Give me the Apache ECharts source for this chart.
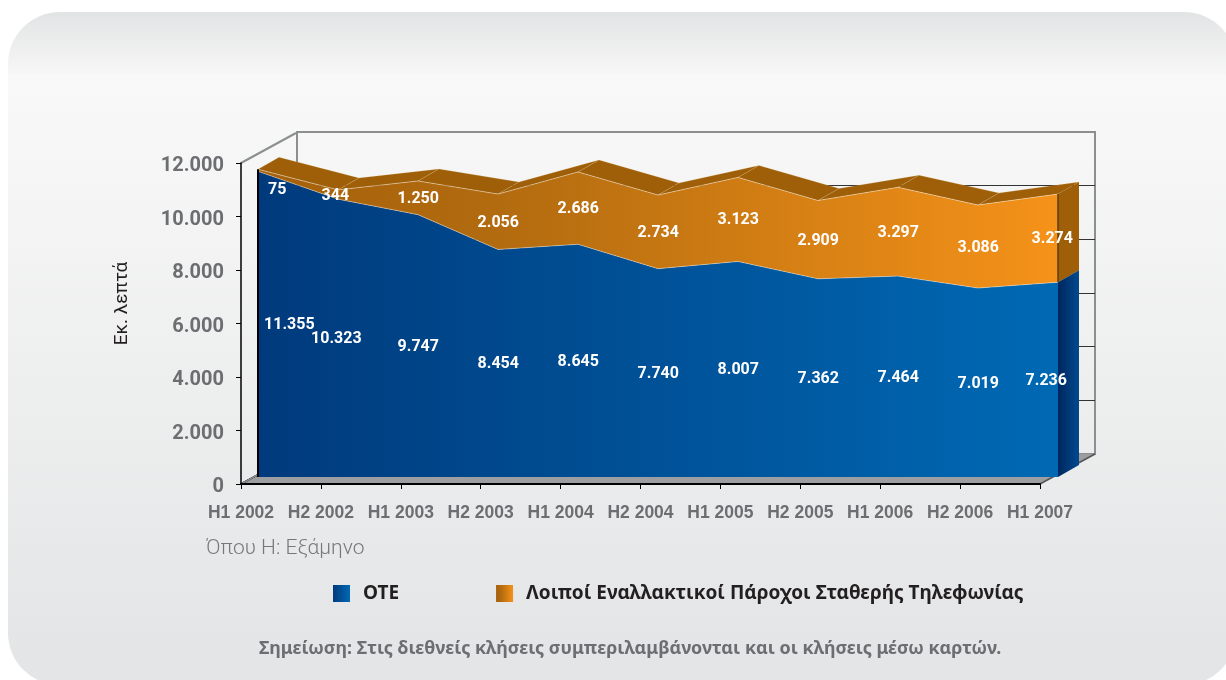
<!DOCTYPE html>
<html><head><meta charset="utf-8">
<style>html,body{margin:0;padding:0;background:#fff}#c{width:1226px;height:680px}</style>
<script src="https://cdn.jsdelivr.net/npm/echarts@6/dist/echarts.min.js"></script>
</head><body><div id="c"></div>
<script>
const categories=['H1 2002','H2 2002','H1 2003','H2 2003','H1 2004','H2 2004','H1 2005','H2 2005','H1 2006','H2 2006','H1 2007'];
const oteValues=[11355,10323,9747,8454,8645,7740,8007,7362,7464,7019,7236];
const otherValues=[75,344,1250,2056,2686,2734,3123,2909,3297,3086,3274];
const oteName='ΟΤΕ';
const otherName='Λοιποί Εναλλακτικοί Πάροχοι Σταθερής Τηλεφωνίας';
const yAxisTitle='Εκ. λεπτά';
const semesterNote='Όπου Η: Εξάμηνο';
const footNote='Σημείωση: Στις διεθνείς κλήσεις συμπεριλαμβάνονται και οι κλήσεις μέσω καρτών.';

const fmt=v=>String(v).replace(/\B(?=(\d{3})+$)/g,'.');
const G=(stops)=>new echarts.graphic.LinearGradient(0,0,1,0,stops.map(([o,c])=>({offset:o,color:c})));
const blueFill=()=>G([[0,'#003a7c'],[1,'#0069b4']]);
const orangeFill=()=>G([[0,'#a5600a'],[.3,'#b26b0f'],[1,'#f59219']]);
const totals=oteValues.map((v,i)=>v+otherValues[i]);
const D=[21,-12];        // depth of the area band, px
const W=[55,-30];        // depth of the whole box, px
const LAST=categories.length-1;
const frontAxes={xAxisIndex:2,yAxisIndex:2,coordinateSystem:'cartesian2d'};
const boxAxes={xAxisIndex:0,yAxisIndex:0,coordinateSystem:'cartesian2d'};
const add=(p,d)=>[p[0]+d[0],p[1]+d[1]];
const idx=categories.map((_,i)=>i);
const nudgeOther={0:[19,19],1:[-3,0],10:[-6,0]};
const nudgeOte={0:[31,0],1:[-2,0],10:[-12,0]};

const once=(fn)=>(p,api)=>p.dataIndex===0?fn(api):null;
const floorSeries={type:'custom',...boxAxes,z:1,silent:true,data:[0],renderItem:once(api=>{
  const a=api.coord([0,0]),b=api.coord([LAST,0]);
  return {type:'polygon',shape:{points:[a,b,add(b,W),add(a,W)]},style:{fill:'#9c9ea1'}};
})};
const sideWallSeries={type:'custom',...boxAxes,z:1,silent:true,data:[2000,4000,6000,8000,10000],renderItem:(p,api)=>{
  const a=api.coord([0,api.value(0)]);
  return {type:'line',shape:{x1:a[0],y1:a[1],x2:a[0]+W[0],y2:a[1]+W[1]},style:{stroke:'#111',lineWidth:1.2}};
}};
const topDiagSeries={type:'custom',...boxAxes,z:1,silent:true,data:[0],renderItem:once(api=>{
  const a=api.coord([0,12000]),o=api.coord([0,0]),e=api.coord([LAST,0]);
  const l=(p,c,w)=>({type:'line',shape:{x1:p[0],y1:p[1],x2:p[0]+W[0],y2:p[1]+W[1]},style:{stroke:c,lineWidth:w}});
  return {type:'group',children:[l(a,'#8c8e90',2),l(o,'#8c8e90',1.5),l(e,'#555',1.5)]};
})};
const topFaceSeries={type:'custom',...frontAxes,z:3,silent:true,data:idx.slice(0,LAST),renderItem:(p,api)=>{
  const i=p.dataIndex,a=api.coord([i,totals[i]]),b=api.coord([i+1,totals[i+1]]);
  return {type:'polygon',shape:{points:[a,b,add(b,D),add(a,D)]},style:{fill:'#9e5f08',stroke:'rgba(235,200,140,.3)',lineWidth:.6}};
}};
const sideFaceSeries={type:'custom',...frontAxes,z:3,silent:true,data:[0],renderItem:once(api=>{
  const t=api.coord([LAST,totals[LAST]]),m=api.coord([LAST,oteValues[LAST]]),o=api.coord([LAST,0]);
  return {type:'group',children:[
    {type:'polygon',shape:{points:[t,add(t,D),add(m,D),m]},style:{fill:'#9e5f08'}},
    {type:'polygon',shape:{points:[m,add(m,D),add(o,D),o]},style:{fill:G([[0,'#00265f'],[1,'#004a8e']])}}
  ]};
})};
const edgeSeries={type:'custom',...frontAxes,z:5,silent:true,data:[0],renderItem:once(api=>{
  const t0=api.coord([0,totals[0]]),o0=api.coord([0,0]),t=api.coord([LAST,totals[LAST]]),m=api.coord([LAST,oteValues[LAST]]);
  return {type:'group',children:[
    {type:'line',shape:{x1:t0[0],y1:t0[1],x2:o0[0],y2:o0[1]},style:{stroke:'#000',lineWidth:2}},
    {type:'line',shape:{x1:t[0],y1:t[1],x2:m[0],y2:m[1]},style:{stroke:'#5a3a10',lineWidth:1.4}}
  ]};
})};
const labelSeries=(name,vals,base,nudge)=>({type:'custom',...frontAxes,z:6,silent:true,name:name+' labels',data:idx,renderItem:(p,api)=>{
  const i=p.dataIndex,n=nudge[i]||[0,0],c=api.coord([i,base[i]+vals[i]/2]);
  return {type:'text',style:{text:fmt(vals[i]),x:c[0]+n[0]+.3,y:c[1]+n[1]+1,fill:'#fff',fontFamily:'Roboto',fontWeight:700,fontSize:16,align:'center',verticalAlign:'middle'}};
}});
const areaEdge={color:'rgba(255,255,255,.55)',width:.7};

const option={
  animation:false,
  graphic:[
    {type:'rect',z:-100,silent:true,shape:{x:8,y:12,width:1228,height:673,r:52},
      style:{fill:new echarts.graphic.LinearGradient(0,0,0,1,[
        {offset:0,color:'#e2e3e4'},{offset:.093,color:'#f7f7f7'},{offset:.094,color:'#f9f9f9'},{offset:.95,color:'#e4e5e6'},{offset:1,color:'#e4e5e6'}])}},
    {type:'text',z:10,silent:true,style:{text:semesterNote,x:206,y:549,fill:'#77787b',font:'300 21px Roboto, sans-serif',verticalAlign:'middle'}},
    {type:'text',z:10,silent:true,style:{text:footNote,x:259,y:649,fill:'#6d6e71',font:'700 17.9px "Noto Sans", sans-serif',verticalAlign:'middle'}}
  ],
  legend:{left:333,top:584,itemWidth:17,itemHeight:17,itemGap:97,icon:'rect',padding:0,
    textStyle:{color:'#231f20',fontFamily:'"Noto Sans", sans-serif',fontWeight:700,fontSize:19,padding:[0,0,0,8]},
    data:[oteName,otherName]},
  grid:[
    {left:241,top:163,width:799,height:321,show:false},
    {left:297,top:132,width:798,height:322,show:true,backgroundColor:'transparent',borderColor:'#8c8e90',borderWidth:2},
    {left:258,top:154,width:800,height:323,show:false}
  ],
  xAxis:[
    {gridIndex:0,type:'category',boundaryGap:false,data:categories,z:8,
      axisLine:{lineStyle:{color:'#000',width:2}},axisTick:{show:true,length:5,alignWithLabel:true,interval:0,lineStyle:{color:'#000',width:1}},
      axisLabel:{interval:0,color:'#6d6e71',fontFamily:'"Liberation Sans", Arial, sans-serif',fontWeight:700,fontSize:17.5,margin:20,hideOverlap:false,showMinLabel:true,showMaxLabel:true}},
    {gridIndex:1,type:'category',boundaryGap:false,data:categories,show:false},
    {gridIndex:2,type:'category',boundaryGap:false,data:categories,show:false}
  ],
  yAxis:[
    {gridIndex:0,type:'value',min:0,max:12000,interval:2000,z:8,name:yAxisTitle,nameLocation:'middle',nameGap:109,nameRotate:90,
      nameTextStyle:{color:'#231f20',fontFamily:'Roboto, sans-serif',fontWeight:400,fontSize:19,padding:[0,0,0,40]},
      axisLine:{show:true,lineStyle:{color:'#000',width:1.5}},axisTick:{show:true,length:5,lineStyle:{color:'#000',width:1}},splitLine:{show:false},
      axisLabel:{color:'#6d6e71',fontFamily:'Roboto, sans-serif',fontWeight:700,fontSize:20,margin:17,verticalAlign:'top',lineHeight:6,formatter:fmt}},
    {gridIndex:1,type:'value',min:0,max:12000,interval:2000,axisLabel:{show:false},axisLine:{show:false},axisTick:{show:false},
      splitLine:{show:true,showMinLine:false,showMaxLine:false,lineStyle:{color:'#333',width:1}}},
    {gridIndex:2,type:'value',min:0,max:12000,interval:2000,show:false,splitLine:{show:false}}
  ],
  series:[
    floorSeries,sideWallSeries,topDiagSeries,topFaceSeries,sideFaceSeries,
    {name:oteName,type:'line',stack:'t',xAxisIndex:2,yAxisIndex:2,z:4,data:oteValues,symbol:'none',lineStyle:areaEdge,
      itemStyle:{color:blueFill()},areaStyle:{color:blueFill(),opacity:1},silent:true},
    {name:otherName,type:'line',stack:'t',xAxisIndex:2,yAxisIndex:2,z:4,data:otherValues,symbol:'none',lineStyle:areaEdge,
      itemStyle:{color:orangeFill()},areaStyle:{color:orangeFill(),opacity:1},silent:true},
    edgeSeries,
    labelSeries('other',otherValues,oteValues,nudgeOther),
    labelSeries('ote',oteValues,oteValues.map(()=>0),nudgeOte)
  ]
};
const chart=echarts.init(document.getElementById('c'),null,{renderer:'canvas'});
chart.setOption(option);
</script></body></html>
